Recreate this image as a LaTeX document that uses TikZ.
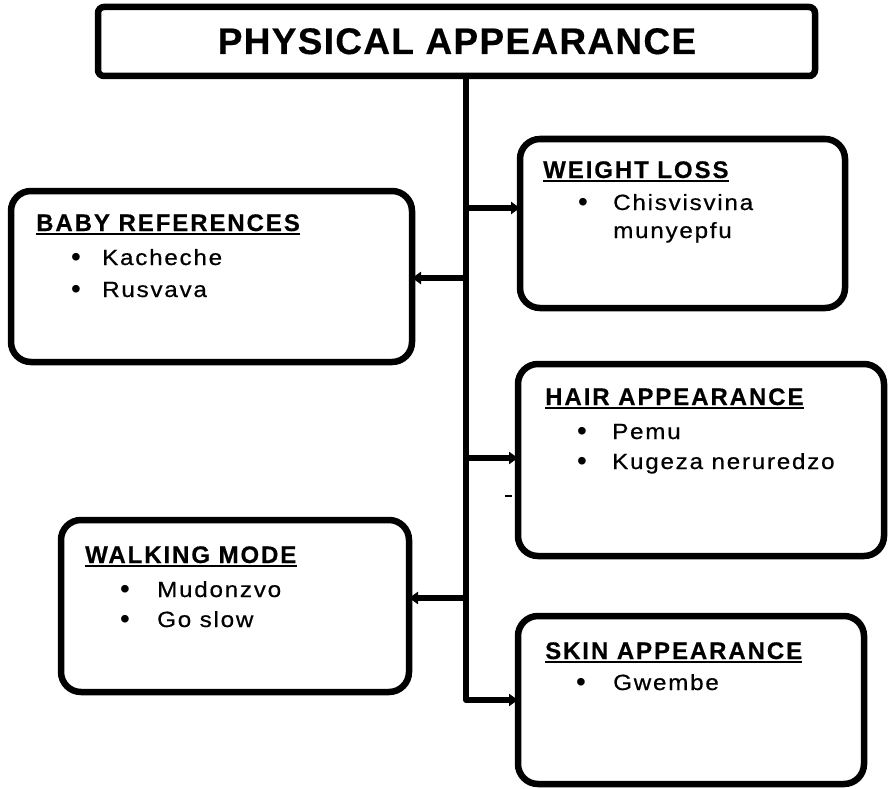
\documentclass[tikz,border=0pt]{standalone}
\usepackage{fontspec}
\setmainfont{Liberation Sans}
\newfontfamily\headfont[LetterSpace=8,FakeBold=0.4]{Liberation Sans}
\newfontfamily\bodyfont[LetterSpace=8,FakeStretch=1.1,FakeBold=0.6]{Liberation Sans}
\newfontfamily\topfont[LetterSpace=3.5,FakeBold=0.4]{Liberation Sans}
\usetikzlibrary{arrows.meta}
\begin{document}
\begin{tikzpicture}[x=1pt,y=-1pt,
 box/.style={draw, line width=6.5pt, rounded corners=20pt, inner sep=0pt, outer sep=0pt},
 conn/.style={line width=6pt, line join=round, -{Triangle[length=9pt,width=12pt]}},
 head/.style={anchor=base west, inner sep=0pt, font=\headfont\fontsize{24}{28}\selectfont\bfseries},
 item/.style={anchor=base west, inner sep=0pt, font=\bodyfont\fontsize{22}{25}\selectfont},
 bul/.style={anchor=base, inner sep=0pt, font=\fontsize{28}{30}\selectfont},
 uline/.style={line width=2.5pt},
]
\useasboundingbox (0,0) rectangle (891,789);

% top box
\node[box, rounded corners=6pt, minimum width=717pt, minimum height=69pt] (top) at (456.5,41.5) {};
\node[anchor=base, inner sep=0pt, font=\topfont\fontsize{37}{40}\selectfont\bfseries] (title) at (457,54) {PHYSICAL APPEARANCE};

% boxes
\node[box, minimum width=401pt, minimum height=171pt] (baby) at (211.5,276.5) {};
\node[box, minimum width=325pt, minimum height=169pt] (weight) at (682.5,223.5) {};
\node[box, minimum width=366pt, minimum height=192pt] (hair) at (701,460) {};
\node[box, minimum width=348pt, minimum height=172pt] (walk) at (235,606) {};
\node[box, minimum width=346pt, minimum height=168pt] (skin) at (691,700) {};

% baby references
\node[head] (hb) at (36,231) {BABY REFERENCES};
\draw[uline] ([yshift=-3pt]hb.base west) -- ([yshift=-3pt]hb.base east);
\node[bul] (b1) at (76,266) {•};
\node[item] (t1) at (102,265) {Kacheche};
\node[bul] (b2) at (76,298) {•};
\node[item] (t2) at (102,297) {Rusvava};

% weight loss
\node[head] (hw) at (543,178) {WEIGHT LOSS};
\draw[uline] ([yshift=-3pt]hw.base west) -- ([yshift=-3pt]hw.base east);
\node[bul] (b3) at (583,211) {•};
\node[item] (t3) at (613,210) {Chisvisvina};
\node[item] (t4) at (613,238) {munyepfu};

% hair appearance
\node[head] (hh) at (545,405) {HAIR APPEARANCE};
\draw[uline] ([yshift=-3pt]hh.base west) -- ([yshift=-3pt]hh.base east);
\node[bul] (b5) at (582,440) {•};
\node[item] (t5) at (612,439) {Pemu};
\node[bul] (b6) at (582,470) {•};
\node[item] (t6) at (612,469) {Kugeza neruredzo};

% walking mode
\node[head] (hm) at (85,563) {WALKING MODE};
\draw[uline] ([yshift=-3pt]hm.base west) -- ([yshift=-3pt]hm.base east);
\node[bul] (b7) at (125,598) {•};
\node[item] (t7) at (157,597) {Mudonzvo};
\node[bul] (b8) at (125,628) {•};
\node[item] (t8) at (157,627) {Go slow};

% skin appearance
\node[head] (hs) at (545,659) {SKIN APPEARANCE};
\draw[uline] ([yshift=-3pt]hs.base west) -- ([yshift=-3pt]hs.base east);
\node[bul] (b9) at (581,691) {•};
\node[item] (t9) at (613,690) {Gwembe};

% connectors
\coordinate (tr) at (466,700);
\coordinate (jb) at (466,278);
\coordinate (jw) at (466,208);
\coordinate (jh) at (466,458);
\coordinate (jk) at (466,598);
\draw[conn] (top.south -| tr) -- (tr) -- (tr -| skin.west);
\draw[conn] (jb) -- (jb -| baby.east);
\draw[conn] (jw) -- (jw -| weight.west);
\draw[conn] (jh) -- (jh -| hair.west);
\draw[conn] (jk) -- (jk -| walk.east);

% stray mark
\draw[line width=1.5pt] (505,496) -- (512,496);
\end{tikzpicture}
\end{document}
